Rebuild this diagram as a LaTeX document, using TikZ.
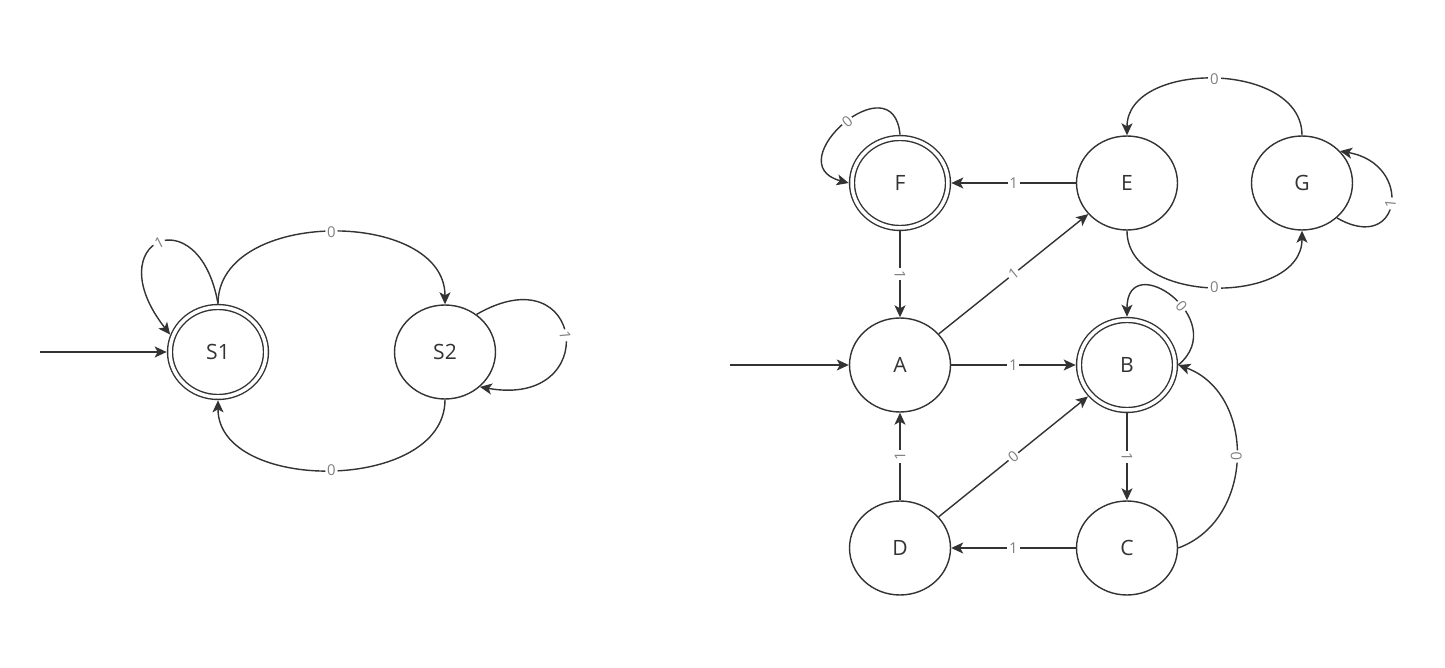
\documentclass[tikz,border=0pt]{standalone}
\usepackage{fontspec}
\setmainfont{Open Sans}
\usetikzlibrary{shapes.geometric,arrows.meta}
\definecolor{ink}{HTML}{333333}
\definecolor{labelgray}{HTML}{808080}

\begin{document}
\begin{tikzpicture}[x=0.02cm, y=0.02cm,
        statenode/.style={ellipse, draw=ink, line width=0.8pt, minimum width=2.02cm, minimum height=1.88cm, inner sep=0pt, text=ink, font=\fontsize{12}{14}\selectfont},
        finalnode/.style={statenode, double=white, double distance=2pt, minimum width=1.92cm, minimum height=1.80cm, outer sep=1.9pt},
        trans/.style={draw=ink, line width=0.8pt, -{Stealth[length=2.4mm, width=2.2mm, inset=0.6mm]}},
        translabel/.style={sloped, fill=white, inner sep=1pt, text=labelgray, font=\fontsize{8.5}{10}\selectfont}]
        \useasboundingbox (0, 0) rectangle (1445, 667);

        \node[finalnode] (s1) at (218, 315) {S1};
        \node[statenode] (s2) at (445, 315) {S2};
        \coordinate (s1in) at (40, 315);

        \draw[trans] (s1in) -- (s1);
        \draw[trans] (s1.north) to[out=100, in=128, out distance=2.2cm, in distance=2.4cm] node[translabel, pos=0.5] {1} (s1.160);
        \draw[trans] (s1.north) to[out=90, in=90, looseness=1.08] node[translabel] {0} (s2.north);
        \draw[trans] (s2.south) to[out=-90, in=-90, looseness=1.05] node[translabel] {0} (s1.south);
        \draw[trans] (s2.50) to[out=30, in=-10, distance=2.5cm] node[translabel] {1} (s2.-45);

        \node[finalnode] (f) at (900, 484) {F};
        \node[statenode] (e) at (1127, 484) {E};
        \node[statenode] (g) at (1302, 484) {G};
        \node[statenode] (a) at (900, 302) {A};
        \node[finalnode] (b) at (1127, 302) {B};
        \node[statenode] (d) at (900, 119) {D};
        \node[statenode] (c) at (1127, 119) {C};
        \coordinate (ain) at (730, 302);

        \draw[trans] (ain) -- (a);
        \draw[trans] (f.north) to[out=95, in=165, distance=1.5cm] node[translabel, pos=0.48] {0} (f.west);
        \draw[trans] (e) -- node[translabel] {1} (f);
        \draw[trans] (f) -- node[translabel] {1} (a);
        \draw[trans] (a) -- node[translabel] {1} (e);
        \draw[trans] (g.north) to[out=90, in=90, looseness=1.1] node[translabel] {0} (e.north);
        \draw[trans] (e.south) to[out=-90, in=-90, looseness=1.1] node[translabel] {0} (g.south);
        \draw[trans] (g.-45) to[out=-30, in=-10, distance=1.5cm] node[translabel] {1} (g.40);
        \draw[trans] (a) -- node[translabel] {1} (b);
        \draw[trans] (b.east) to[out=40, in=90, distance=1.4cm] node[translabel, pos=0.42] {0} (b.north);
        \draw[trans] (b) -- node[translabel] {1} (c);
        \draw[trans] (c.east) to[out=20, in=-20, distance=1.65cm] node[translabel] {0} (b.east);
        \draw[trans] (c) -- node[translabel] {1} (d);
        \draw[trans] (d) -- node[translabel] {1} (a);
        \draw[trans] (d) -- node[translabel] {0} (b);
    \end{tikzpicture}
\end{document}
